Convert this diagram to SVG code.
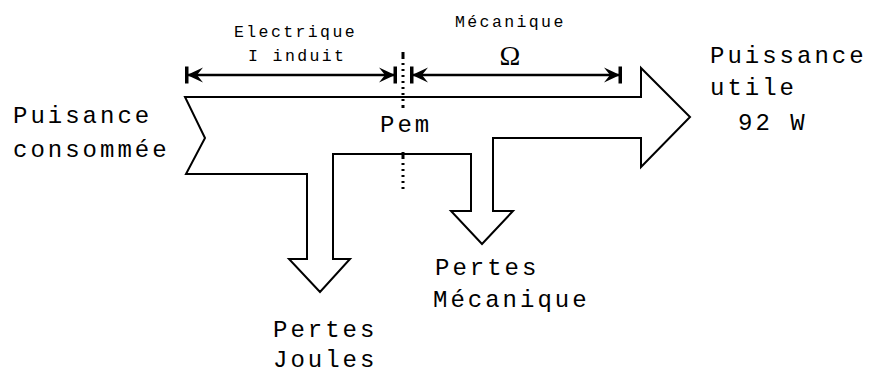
<svg xmlns="http://www.w3.org/2000/svg" width="871" height="374" viewBox="0 0 871 374">
  <style>
    .mono { font-family: "Liberation Mono", "Courier New", monospace; fill: #000; }
    .big { font-size: 24px; letter-spacing: 3px; }
    .small { font-size: 16.5px; letter-spacing: 2.4px; }
    .flow { fill: #fff; stroke: #000; stroke-width: 2; stroke-linejoin: miter; }
    .dim { stroke: #000; stroke-width: 2.6; fill: none; }
    .sep { stroke: #000; stroke-width: 3; stroke-dasharray: 7 4 2 4 2 4 2 4 2 4 2 4 2 4 2 4; }
  </style>
  <defs>
    <marker id="stop" viewBox="-17 -9 19 18" refX="0" refY="0" markerWidth="19" markerHeight="18" markerUnits="userSpaceOnUse" orient="auto-start-reverse">
      <path d="M0,0 L-16,-7.5 L-10,0 L-16,7.5 Z" fill="#000"/>
      <rect x="-1.5" y="-8.5" width="3.5" height="17" fill="#000"/>
    </marker>
  </defs>

  <rect width="871" height="374" fill="#fff"/>

  <!-- power flow band with its three outlets -->
  <g id="flow">
    <path class="flow" d="M185,97 L641,97 L641,68 L690,117 L641,167 L641,138 L493,138 L493,211 L513,211 L482,244 L451,211 L471,211 L471,154 L333,154 L333,259 L350,259 L320,292 L289,259 L307,259 L307,174 L186,174 L205,138 Z"/>
  </g>

  <!-- connectors: dimension arrows and the Pem separator -->
  <g id="connectors">
    <line class="dim" x1="187" y1="75" x2="395" y2="75" marker-start="url(#stop)" marker-end="url(#stop)"/>
    <line class="dim" x1="412" y1="75" x2="620" y2="75" marker-start="url(#stop)" marker-end="url(#stop)"/>
    <line class="sep" x1="403" y1="52" x2="403" y2="108"/>
    <line class="sep" x1="403" y1="152" x2="403" y2="190"/>
  </g>

  <g id="electrique">
    <text class="mono small" x="234" y="37">Electrique</text>
    <text class="mono small" x="248" y="61">I induit</text>
  </g>

  <g id="mecanique">
    <text class="mono small" x="455" y="27">Mécanique</text>
    <text x="510" y="65" text-anchor="middle" font-family="Liberation Serif, Times New Roman, serif" font-size="28">Ω</text>
  </g>

  <g id="pem">
    <text class="mono big" x="380" y="132">Pem</text>
  </g>

  <g id="consommee">
    <text class="mono big" x="13" y="123">Puisance</text>
    <text class="mono big" x="13" y="157">consommée</text>
  </g>

  <g id="utile">
    <text class="mono big" x="710" y="63">Puissance</text>
    <text class="mono big" x="710" y="95">utile</text>
    <text class="mono big" x="738" y="130">92 W</text>
  </g>

  <g id="pertes-joules">
    <text class="mono big" x="273" y="337">Pertes</text>
    <text class="mono big" x="273" y="367">Joules</text>
  </g>

  <g id="pertes-mecanique">
    <text class="mono big" x="435" y="275">Pertes</text>
    <text class="mono big" x="433" y="307">Mécanique</text>
  </g>
</svg>
